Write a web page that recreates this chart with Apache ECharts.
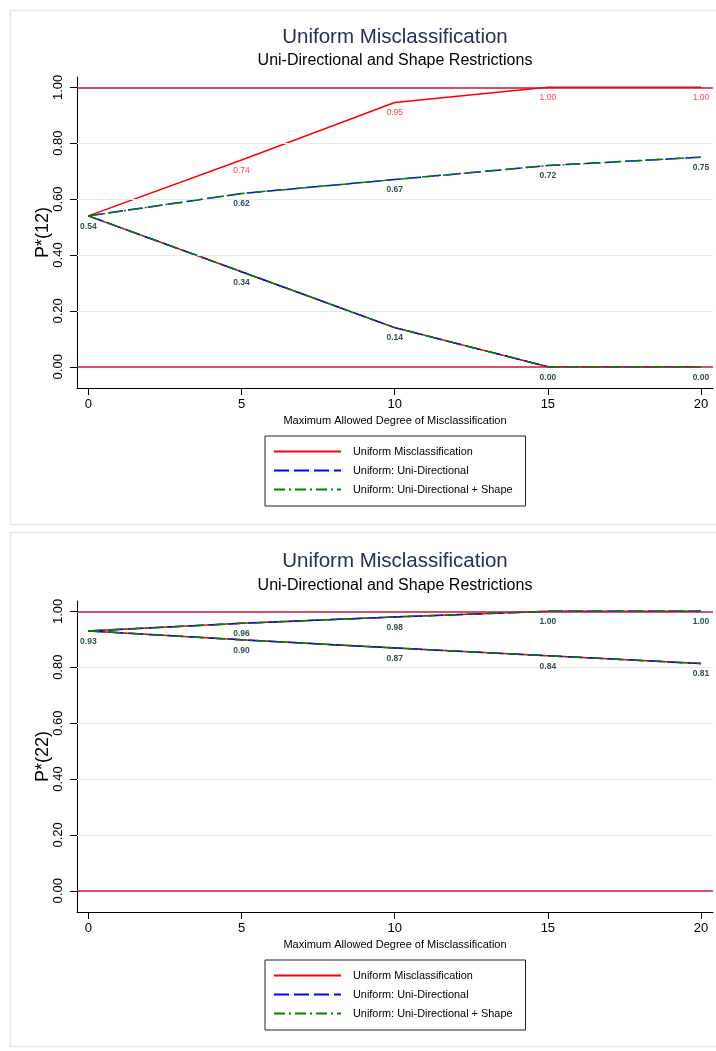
<!DOCTYPE html>
<html>
<head>
<meta charset="utf-8">
<script src="https://cdn.jsdelivr.net/npm/echarts@6/dist/echarts.min.js"></script>
<style>
html,body{margin:0;padding:0;background:#fff;}
#chart{width:716px;height:1051px;}
</style>
</head>
<body>
<div id="chart"></div>
<script>
// ---- data ----
const xValues = [0, 5, 10, 15, 20];
const xTicks = [0, 5, 10, 15, 20];
const yTicks = [0, 0.2, 0.4, 0.6, 0.8, 1.0];
const gridLevels = [0.2, 0.4, 0.6, 0.8];
const boundLevels = [0, 1];
const seriesNames = ['Uniform Misclassification', 'Uniform: Uni-Directional', 'Uniform: Uni-Directional + Shape'];
const titleText = 'Uniform Misclassification';
const subtitleText = 'Uni-Directional and Shape Restrictions';
const xAxisTitle = 'Maximum Allowed Degree of Misclassification';
const yAxisTitles = ['P*(12)', 'P*(22)'];

// Panel 1: P*(12)
const p12UniformUpper = [0.54, 0.74, 0.946, 1.00, 1.00];
const p12UniformLower = [0.54, 0.34, 0.14, 0.00, 0.00];
const p12UniDirUpper  = [0.54, 0.62, 0.67, 0.72, 0.75];
const p12UniDirLower  = [0.54, 0.34, 0.14, 0.00, 0.00];
const p12ShapeUpper   = [0.54, 0.62, 0.67, 0.72, 0.75];
const p12ShapeLower   = [0.54, 0.34, 0.14, 0.00, 0.00];

// Panel 2: P*(22)
const p22UniformUpper = [0.93, 0.957, 0.98, 1.00, 1.00];
const p22UniformLower = [0.93, 0.898, 0.869, 0.841, 0.813];
const p22UniDirUpper  = [0.93, 0.957, 0.98, 1.00, 1.00];
const p22UniDirLower  = [0.93, 0.898, 0.869, 0.841, 0.813];
const p22ShapeUpper   = [0.93, 0.957, 0.98, 1.00, 1.00];
const p22ShapeLower   = [0.93, 0.898, 0.869, 0.841, 0.813];

// ---- styling / building ----
const FONT = "'Liberation Sans', Arial, Helvetica, sans-serif";
const lineStyles = [
  {color: '#ff0000', width: 1.5, type: 'solid'},
  {color: '#0000ff', width: 1.5, type: [15, 5]},
  {color: '#008000', width: 1.5, type: [11, 4, 2, 4]}
];
const toPts = arr => xValues.map((x, i) => [x, arr[i]]);

function mkLabel(mode, color, bold) {
  // mode: 'none' | 'all' | 'skipFirst'
  if (mode === 'none') return {show: false};
  return {
    show: true, position: 'bottom', distance: 6,
    fontSize: 8.5, fontFamily: FONT, color: color, fontWeight: bold ? 'bold' : 'normal',
    formatter: p => (mode === 'skipFirst' && p.dataIndex === 0) ? '' : p.value[1].toFixed(2)
  };
}
function mkSeries(gi, typeIdx, arr, labelMode, labelColor, bold) {
  return {
    type: 'line', name: seriesNames[typeIdx],
    xAxisIndex: gi, yAxisIndex: gi,
    data: toPts(arr),
    symbol: 'circle', symbolSize: 0, showSymbol: true,
    lineStyle: lineStyles[typeIdx],
    itemStyle: {color: lineStyles[typeIdx].color},
    label: mkLabel(labelMode, labelColor, bold),
    z: 3 + typeIdx, silent: true
  };
}
function refSeries(gi) {
  return {
    type: 'line', xAxisIndex: gi, yAxisIndex: gi, data: [], z: 1, silent: true,
    markLine: {
      silent: true, symbol: 'none', label: {show: false}, animation: false,
      data: gridLevels.map(v => ({yAxis: v, lineStyle: {color: '#e4ebf0', width: 1, type: 'solid'}}))
        .concat(boundLevels.map(v => ({yAxis: v, lineStyle: {color: '#c8143c', width: 1.5, type: 'solid'}})))
    }
  };
}

const dark = '#2e5252';
const panels = [
  {top: 77, legendTop: 436, titleY: 36, subY: 60,
   data: [p12UniformUpper, p12UniformLower, p12UniDirUpper, p12UniDirLower, p12ShapeUpper, p12ShapeLower],
   redLabel: 'skipFirst'},
  {top: 601, legendTop: 960, titleY: 560, subY: 585,
   data: [p22UniformUpper, p22UniformLower, p22UniDirUpper, p22UniDirLower, p22ShapeUpper, p22ShapeLower],
   redLabel: 'none'}
];

const grids = [], xAxes = [], yAxes = [], series = [], legends = [], graphics = [];
panels.forEach((p, gi) => {
  grids.push({left: 77, right: 3, top: p.top, height: 311, containLabel: false, outerBoundsMode: 'none'});
  xAxes.push({
    type: 'value', gridIndex: gi, min: -0.37, max: 20.39,
    name: xAxisTitle, nameLocation: 'middle', nameGap: 27, nameMoveOverlap: false,
    nameTextStyle: {fontSize: 11, fontFamily: FONT, color: '#000'},
    axisLine: {show: true, onZero: false, lineStyle: {color: '#000', width: 1}},
    axisTick: {show: true, length: 7, customValues: xTicks, lineStyle: {color: '#000'}},
    axisLabel: {show: true, customValues: xTicks, margin: 10, fontSize: 13, fontFamily: FONT, color: '#000'},
    splitLine: {show: false}
  });
  yAxes.push({
    type: 'value', gridIndex: gi, min: -0.076, max: 1.037,
    name: yAxisTitles[gi], nameLocation: 'middle', nameGap: 25, nameRotate: 90, nameMoveOverlap: false,
    nameTextStyle: {fontSize: 18, fontFamily: FONT, color: '#000'},
    axisLine: {show: true, onZero: false, lineStyle: {color: '#000', width: 1}},
    axisTick: {show: true, length: 7, customValues: yTicks, lineStyle: {color: '#000'}},
    axisLabel: {show: true, customValues: yTicks, rotate: 90, margin: 12, fontSize: 13, fontFamily: FONT, color: '#000',
      formatter: v => Number(v).toFixed(2)},
    splitLine: {show: false}
  });
  series.push(refSeries(gi));
  const d = p.data;
  series.push(mkSeries(gi, 0, d[0], p.redLabel, '#ff4040', false));
  series.push(mkSeries(gi, 0, d[1], 'none'));
  series.push(mkSeries(gi, 1, d[2], 'none'));
  series.push(mkSeries(gi, 1, d[3], 'none'));
  series.push(mkSeries(gi, 2, d[4], 'skipFirst', dark, true));
  series.push(mkSeries(gi, 2, d[5], 'all', dark, true));
  legends.push({
    data: seriesNames, orient: 'vertical', left: 265, top: p.legendTop,
    itemWidth: 67, itemHeight: 12, itemGap: 8,
    padding: [10, 13, 11, 8],
    borderColor: '#222', borderWidth: 1, backgroundColor: '#fff',
    selectedMode: false,
    itemStyle: {opacity: 0},
    textStyle: {fontSize: 10.9, fontFamily: FONT, color: '#000', padding: [0, 0, 0, 7]}
  });
  graphics.push({type: 'rect', shape: {x: 10.5, y: gi === 0 ? 10.5 : 532.5, width: 720, height: 514},
    style: {fill: 'none', stroke: '#e3e8eb', lineWidth: 1.5}, z: -10, silent: true});
  graphics.push({type: 'text', x: 395, y: p.titleY + 1, silent: true,
    style: {text: titleText, fontSize: 20.5, fontFamily: FONT, fill: '#22305c', align: 'center', verticalAlign: 'middle'}});
  graphics.push({type: 'text', x: 395, y: p.subY + 1, silent: true,
    style: {text: subtitleText, fontSize: 16, fontFamily: FONT, fill: '#000', align: 'center', verticalAlign: 'middle'}});
});

const chart = echarts.init(document.getElementById('chart'), null, {renderer: 'canvas'});
chart.setOption({
  animation: false,
  backgroundColor: '#fff',
  grid: grids, xAxis: xAxes, yAxis: yAxes,
  legend: legends, series: series, graphic: graphics,
  tooltip: {show: false}
});
</script>
</body>
</html>
